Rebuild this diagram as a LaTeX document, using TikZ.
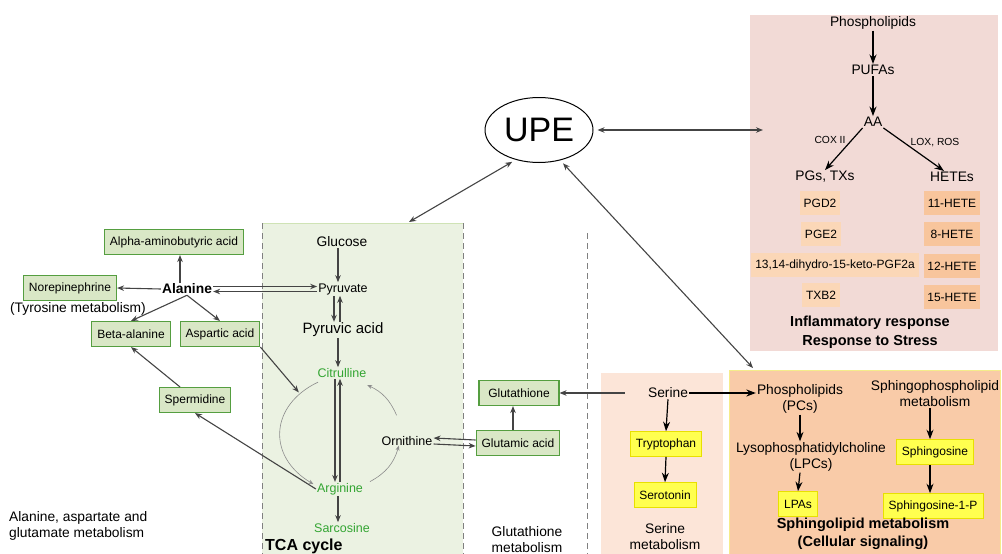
\documentclass[tikz,border=0pt]{standalone}
\usepackage{fontspec}
\setmainfont{Liberation Sans}
\usetikzlibrary{arrows.meta,shapes.geometric}

\definecolor{greenfill}{HTML}{D9E7C6}
\definecolor{boxgreen}{HTML}{559E40}
\definecolor{tcabg}{HTML}{EBF2E2}
\definecolor{tcatop}{HTML}{CFE3B5}
\definecolor{dashgray}{HTML}{808080}
\definecolor{serbg}{HTML}{FCE5D8}
\definecolor{sphbg}{HTML}{F9CBA8}
\definecolor{sphedge}{HTML}{F5EC8A}
\definecolor{inflbg}{HTML}{F2DAD6}
\definecolor{pgfill}{HTML}{FBD7B7}
\definecolor{hetefill}{HTML}{F8C59C}
\definecolor{yellowfill}{HTML}{FFFF4F}
\definecolor{yellowedge}{HTML}{E8E000}
\definecolor{cycgreen}{HTML}{33A532}
\definecolor{linkgray}{HTML}{444444}
\definecolor{ringgray}{HTML}{8C8C8C}

\begin{document}
\begin{tikzpicture}[x=1pt, y=-1pt,
	every node/.style={inner sep=1pt, align=center, font=\fontsize{13.8}{16}\selectfont},
	gbox/.style={draw=boxgreen, fill=greenfill, line width=1.1pt, inner xsep=5.5pt, minimum height=25pt, font=\fontsize{12}{14}\selectfont},
	ybox/.style={draw=yellowedge, fill=yellowfill, line width=.6pt, inner xsep=5.5pt, minimum height=25pt, font=\fontsize{12}{14}\selectfont},
	pgbox/.style={fill=pgfill, inner xsep=4pt, minimum height=24pt, font=\fontsize{12}{14}\selectfont},
	hetebox/.style={fill=hetefill, minimum width=56pt, minimum height=24pt, font=\fontsize{12}{14}\selectfont},
	cyc/.style={text=cycgreen, font=\fontsize{12.5}{15}\selectfont},
	lbl/.style={font=\fontsize{12.5}{15}\selectfont},
	tinylbl/.style={font=\fontsize{10.3}{12}\selectfont},
	heading/.style={font=\fontsize{14.5}{18.5}\selectfont\bfseries},
	link/.style={draw=linkgray, line width=1.1pt, -{Stealth[length=7pt,width=5.5pt]}},
	twoway/.style={link, {Stealth[length=7pt,width=5.5pt]}-{Stealth[length=7pt,width=5.5pt]}},
	biglink/.style={draw=black, line width=1.2pt, -{Stealth[length=9.5pt,width=7pt]}},
	ringarrow/.style={draw=ringgray, line width=.6pt, -{Stealth[length=5pt,width=4pt]}}]

	\useasboundingbox (0,0) rectangle (1002,554);

	% panels
	\fill[tcabg] (262,223) rectangle (463,554);
	\draw[tcatop, line width=.8pt] (262,223) -- (463,223);
	\draw[dashgray, line width=.8pt, dash pattern=on 6pt off 4pt] (262,223) -- (262,554) (463,223) -- (463,554);
	\draw[dashgray, line width=.8pt, dash pattern=on 6pt off 4pt] (587,233) -- (587,554);
	\fill[serbg] (601,373) rectangle (723,554);
	\fill[sphbg] (729,370) rectangle (1000,554);
	\draw[sphedge, line width=.8pt] (729,554) -- (729,370) -- (1000,370) -- (1000,554);
	\fill[inflbg] (750,15) rectangle (998,351);

	\coordinate (tcaIn) at (409,222);
	\coordinate (sphIn) at (753,368);
	\coordinate (inflIn) at (763,130);

	% UPE
	\node[draw, ellipse, line width=1pt, minimum width=108pt, minimum height=65pt, inner sep=0pt, font=\fontsize{34}{36}\selectfont] (UPE) at (539,130) {UPE};

	% inflammatory response
	\node (PL) at (873,23) {Phospholipids};
	\node[below of=PL, node distance=47pt] (PUFA) {PUFAs};
	\node[below of=PUFA, node distance=52pt] (AA) {AA};
	\node[tinylbl] (COX) at (830,140) {COX II};
	\node[tinylbl] (LOX) at (935,143) {LOX, ROS};
	\node (PGs) at (825,177) {PGs, TXs};
	\node (HETEs) at (952,177) {HETEs};
	\node[pgbox] (PGD) at (820,203) {PGD2};
	\node[pgbox] (PGE) at (821,234) {PGE2};
	\node[pgbox] (PGF) at (835,265) {13,14-dihydro-15-keto-PGF2a};
	\node[pgbox] (TXB) at (821,295) {TXB2};
	\node[hetebox] (H11) at (952,203) {11-HETE};
	\node[hetebox] (H8) at (952,234) {8-HETE};
	\node[hetebox] (H12) at (952,266) {12-HETE};
	\node[hetebox] (H15) at (952,297) {15-HETE};
	\node[heading] (Infl) at (870,332) {Inflammatory response\\Response to Stress};

	% alanine, aspartate and glutamate
	\node[gbox] (Alpha) at (174,242) {Alpha-aminobutyric acid};
	\node[font=\fontsize{13.8}{16}\selectfont\bfseries] (Alanine) at (187,289) {Alanine};
	\node[gbox] (Nore) at (70,288) {Norepinephrine};
	\node (Tyr) at (78,309) {(Tyrosine metabolism)};
	\node[gbox] (Beta) at (131,334) {Beta-alanine};
	\node[gbox] (Asp) at (220,334) {Aspartic acid};
	\node[gbox] (Sperm) at (195,400) {Spermidine};
	\node[anchor=west, align=left] (AAG) at (8,526) {Alanine, aspartate and\\glutamate metabolism};

	% TCA cycle
	\node (Glucose) at (342,242) {Glucose};
	\node[lbl] (Pyruvate) at (343,289) {Pyruvate};
	\node[font=\fontsize{15}{17}\selectfont] (Pyruvic) at (343,330) {Pyruvic acid};
	\node[cyc] (Cit) at (342,373) {Citrulline};
	\node[cyc] (Arg) at (340,489) {Arginine};
	\node[cyc] (Sar) at (342,528) {Sarcosine};
	\node[lbl] (Orn) at (407,441) {Ornithine};
	\node[ellipse, minimum width=122pt, minimum height=110pt] (ring) at (339,434) {};
	\node[anchor=west, font=\fontsize{16}{18}\selectfont\bfseries] (TCA) at (264,546) {TCA cycle};

	% glutathione
	\node[gbox, minimum width=80pt] (Gth) at (519,393) {Glutathione};
	\node[gbox, minimum width=80pt] (Glu) at (518,443) {Glutamic acid};
	\node (GthM) at (527,540) {Glutathione\\metabolism};

	% serine
	\node (Ser) at (668,393) {Serine};
	\node[ybox] (Trp) at (666,444) {Tryptophan};
	\node[ybox] (Sero) at (665,495) {Serotonin};
	\node (SerM) at (665,537) {Serine\\metabolism};

	% sphingolipid
	\node (PCs) at (800,399) {Phospholipids\\(PCs)};
	\node (LPC) at (811,457) {Lysophosphatidylcholine\\(LPCs)};
	\node[ybox] (LPA) at (798,504) {LPAs};
	\node (SPM) at (935,394) {Sphingophospholipid\\metabolism};
	\node[ybox] (Sph) at (935,452) {Sphingosine};
	\node[ybox] (S1P) at (933,506) {Sphingosine-1-P};
	\node[heading] (SphL) at (863,534) {Sphingolipid metabolism\\(Cellular signaling)};

	% UPE links
	\draw[twoway, shorten <=4pt] (UPE) -- (inflIn);
	\draw[twoway, shorten <=4pt] (UPE.232) -- (tcaIn);
	\draw[twoway, shorten <=4pt] (UPE.305) -- (sphIn);

	% AA cascade
	\draw[biglink] (PL) -- (PUFA);
	\draw[biglink] (PUFA) -- (AA);
	\draw[biglink] (AA.south west) -- (PGs.north);
	\draw[biglink] (AA.south east) -- ([xshift=-8pt]HETEs.north);

	% alanine
	\draw[link] ([xshift=-7pt]Alanine.north) -- ([xshift=6pt]Alpha.south);
	\draw[link] (Alanine.west) -- (Nore.east);
	\draw[link] (Alanine.south) -- (Beta.north);
	\draw[link] (Alanine.south) -- (Asp.north);
	\draw[link] ([yshift=2.5pt]Alanine.east) -- ([yshift=2.5pt]Pyruvate.west);
	\draw[link] ([yshift=-2.5pt]Pyruvate.west) -- ([yshift=-2.5pt]Alanine.east);
	\draw[link] (Asp.south east) -- (ring.134);
	\draw[link] (Arg.west) -- (Sperm.south);
	\draw[link] ([xshift=-15pt]Sperm.north) -- (Beta.south);

	% TCA
	\draw[link] ([xshift=-4pt]Glucose.south) -- ([xshift=-5pt]Pyruvate.north);
	\draw[link] ([xshift=-9pt]Pyruvate.south) -- ([xshift=-9pt]Pyruvic.north);
	\draw[link] ([xshift=-3pt]Pyruvic.north) -- ([xshift=-3pt]Pyruvate.south);
	\draw[link] ([xshift=-5pt]Pyruvic.south) -- ([xshift=-4pt]Cit.north);
	\draw[link] ([xshift=-7pt]Cit.south) -- ([xshift=-5pt]Arg.north);
	\draw[link] (Arg.north) -- ([xshift=-2pt]Cit.south);
	\draw[link] ([xshift=-2pt]Arg.south) -- ([xshift=-4pt]Sar.north);
	\draw[ringarrow] (ring.112) to[bend right=62, looseness=1.35] (ring.243);
	\draw[ringarrow] (ring.303) to[bend right=23] (ring.349);
	\draw[ringarrow] (ring.18) to[bend right=21] (ring.60);

	% glutathione
	\draw[link] ([xshift=-5pt]Glu.north) -- ([xshift=-6pt]Gth.south);
	\draw[link] ([yshift=3pt]Glu.west) -- ([yshift=3pt]Orn.east);
	\draw[link] ([yshift=-3pt]Orn.east) -- ([yshift=-3pt]Glu.west);
	\draw[link, shorten <=22pt] (Ser.west) -- (Gth.east);

	% serine and sphingolipids
	\draw[biglink] (Ser.east) -- (Ser.east -| PCs.west);
	\draw[biglink] (Ser.south) -- (Trp.north);
	\draw[biglink] (Trp.south) -- (Sero.north);
	\draw[biglink] (PCs.south) -- (PCs.south |- LPC.north);
	\draw[biglink] (PCs.south |- LPC.south) -- (LPA.north);
	\draw[biglink] ([xshift=-5pt]SPM.south) -- ([xshift=-5pt]Sph.north);
	\draw[biglink] ([xshift=-5pt]Sph.south) -- ([xshift=-3pt]S1P.north);
\end{tikzpicture}
\end{document}
